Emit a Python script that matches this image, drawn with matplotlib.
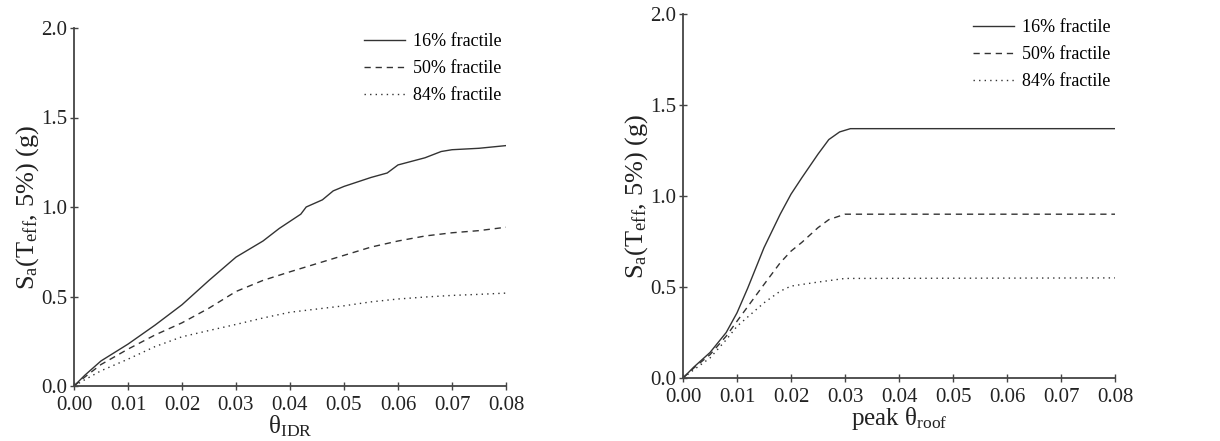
import matplotlib
matplotlib.use("Agg")
from matplotlib import pyplot as plt

plt.rcParams["font.family"] = ["Liberation Serif", "DejaVu Serif"]
plt.rcParams["mathtext.fontset"] = "custom"
plt.rcParams["mathtext.rm"] = "Liberation Serif"
plt.rcParams["mathtext.it"] = "Liberation Serif:italic"

# interstory drift ratio
idr_x16 = [0.0, 0.002, 0.005, 0.01, 0.015, 0.02, 0.025, 0.03, 0.035, 0.038, 0.04, 0.042,
           0.043, 0.046, 0.048, 0.05, 0.055, 0.058, 0.06, 0.065, 0.068, 0.07, 0.075, 0.08]
idr_y16 = [0.0, 0.06, 0.14, 0.234, 0.34, 0.454, 0.59, 0.72, 0.81, 0.88, 0.92, 0.96,
           1.0, 1.04, 1.09, 1.115, 1.165, 1.19, 1.235, 1.275, 1.31, 1.32, 1.328, 1.343]
idr_x50 = [0.0, 0.002, 0.005, 0.01, 0.015, 0.02, 0.025, 0.03, 0.035, 0.04, 0.045, 0.05,
           0.055, 0.06, 0.065, 0.07, 0.075, 0.08]
idr_y50 = [0.0, 0.05, 0.12, 0.206, 0.285, 0.353, 0.435, 0.528, 0.59, 0.638, 0.684, 0.73,
           0.776, 0.81, 0.838, 0.856, 0.868, 0.887]
idr_x84 = [0.0, 0.002, 0.005, 0.01, 0.015, 0.02, 0.025, 0.03, 0.035, 0.04, 0.045, 0.05,
           0.055, 0.06, 0.065, 0.07, 0.075, 0.08]
idr_y84 = [0.0, 0.035, 0.085, 0.15, 0.22, 0.275, 0.31, 0.344, 0.38, 0.412, 0.43, 0.448,
           0.47, 0.486, 0.497, 0.506, 0.512, 0.519]

# peak roof drift
roof_x16 = [0.0, 0.002, 0.005, 0.008, 0.01, 0.012, 0.015, 0.018, 0.02, 0.022, 0.025,
            0.027, 0.029, 0.031, 0.08]
roof_y16 = [0.0, 0.06, 0.14, 0.25, 0.358, 0.495, 0.716, 0.9, 1.01, 1.1, 1.23, 1.31,
            1.352, 1.37, 1.37]
roof_x50 = [0.0, 0.002, 0.005, 0.008, 0.01, 0.015, 0.018, 0.02, 0.022, 0.025, 0.027,
            0.03, 0.08]
roof_y50 = [0.0, 0.055, 0.128, 0.23, 0.312, 0.514, 0.633, 0.697, 0.745, 0.826, 0.87,
            0.9, 0.9]
roof_x84 = [0.0, 0.002, 0.005, 0.008, 0.01, 0.015, 0.018, 0.02, 0.025, 0.03, 0.08]
roof_y84 = [0.0, 0.045, 0.11, 0.21, 0.284, 0.413, 0.477, 0.505, 0.527, 0.547, 0.55]

labels = ["16% fractile", "50% fractile", "84% fractile"]
styles = ["solid", (0, (4.5, 3.5)), (0, (1, 3))]
ink = "#333333"

W, H = 1220, 441
fig = plt.figure(figsize=(W / 100, H / 100), dpi=100)


def box(x0, x1, y0, y1):
    # pixel edges -> figure fraction
    return [x0 / W, 1 - y1 / H, (x1 - x0) / W, (y1 - y0) / H]


ax1 = fig.add_axes(box(74, 506, 28, 386))
ax2 = fig.add_axes(box(683, 1115, 14, 378))

panels = [
    (ax1, [(idr_x16, idr_y16), (idr_x50, idr_y50), (idr_x84, idr_y84)],
     r"$\mathregular{\theta_{IDR}}$"),
    (ax2, [(roof_x16, roof_y16), (roof_x50, roof_y50), (roof_x84, roof_y84)],
     r"peak $\mathregular{\theta_{roof}}$"),
]

for ax, series, xlabel in panels:
    for (x, y), lab, ls in zip(series, labels, styles):
        ax.plot(x, y, color=ink, linestyle=ls, linewidth=1.0, label=lab)
    ax.set_xlim(0, 0.08)
    ax.set_ylim(0, 2.0)
    ax.set_xticks([0.0, 0.01, 0.02, 0.03, 0.04, 0.05, 0.06, 0.07, 0.08])
    ax.set_xticklabels([f"{v:.2f}" for v in ax.get_xticks()])
    ax.set_yticks([0.0, 0.5, 1.0, 1.5, 2.0])
    ax.set_yticklabels([f"{v:.1f}" for v in ax.get_yticks()])
    ax.spines["top"].set_visible(False)
    ax.spines["right"].set_visible(False)
    for s in ("left", "bottom"):
        ax.spines[s].set_color("#444444")
        ax.spines[s].set_linewidth(1.3)
    ax.tick_params(direction="inout", length=6, width=1.0, colors="#444444",
                   labelsize=15, labelcolor="#222222")
    ax.tick_params(axis="x", pad=4)
    ax.tick_params(axis="y", pad=2)
    ax.set_xlabel(xlabel, fontsize=18, labelpad=-1, color="#222222")
    ax.set_ylabel(r"S$_\mathregular{a}$(T$_\mathregular{eff}$, 5%) (g)",
                  fontsize=19, labelpad=0, color="#222222")
    ax.legend(loc="upper right", bbox_to_anchor=(1.01, 1.01), frameon=False,
              fontsize=13, handlelength=2.3, handletextpad=0.4,
              labelspacing=0.55, borderaxespad=0.1)

fig.savefig("out.png", dpi=100)
